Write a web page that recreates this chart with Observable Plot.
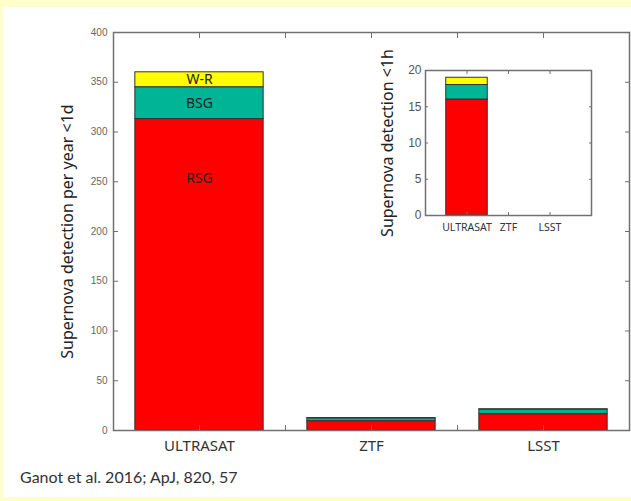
<!DOCTYPE html>
<html><head><meta charset="utf-8">
<script src="https://cdn.jsdelivr.net/npm/d3@7"></script>
<script src="https://cdn.jsdelivr.net/npm/@observablehq/plot@0.6"></script>
<style>
html,body{margin:0;padding:0;background:#fff;}
#wrap{position:relative;width:631px;height:501px;background:#ffffcc;overflow:hidden;font-family:Lato,sans-serif;}
#panel{position:absolute;left:3px;top:7px;width:628px;height:490px;background:#fff;}
#main{position:absolute;left:0;top:0;}
#inset{position:absolute;left:345px;top:55px;}
#caption{position:absolute;left:20px;top:468px;font-size:16px;line-height:18px;color:#333;font-family:Lato,sans-serif;}
</style></head><body>
<div id="wrap"><div id="panel"></div><div id="main"></div><div id="inset"></div><div id="caption">Ganot et al. 2016; ApJ, 820, 57</div></div>
<script>
const categories = ["ULTRASAT", "ZTF", "LSST"];
const types = ["RSG", "BSG", "W-R"];
const typeColors = ["#ff0000", "#00b496", "#ffff00"];
// detections per year < 1 day
const rsgDay = [313, 9.4, 16.4];
const bsgDay = [32, 2.8, 4.5];
const wrDay = [15, 0.3, 0.5];
// detections < 1 hour (inset)
const rsgHour = [16, 0, 0];
const bsgHour = [2, 0, 0];
const wrHour = [1, 0, 0];
const yTicksDay = [0, 50, 100, 150, 200, 250, 300, 350, 400];
const yTicksHour = [0, 5, 10, 15, 20];
const xTicksMain = [0.5, 1, 1.5, 2, 2.5, 3, 3.5];
const xTicksInset = [1, 2, 3];

function stackRows(series) {
  const rows = [];
  categories.forEach((c, i) => {
    let y0 = 0;
    types.forEach((t, k) => {
      const v = series[k][i];
      if (v > 0) rows.push({cat: c, x: i + 1, type: t, y1: y0, y2: y0 + v});
      y0 += v;
    });
  });
  return rows;
}
const dayRows = stackRows([rsgDay, bsgDay, wrDay]);
const hourRows = stackRows([rsgHour, bsgHour, wrHour]);

const frameColor = "#707070";
const mainW = 0.746;

const main = Plot.plot({
  width: 631, height: 460,
  marginLeft: 113, marginRight: 2, marginTop: 32, marginBottom: 30,
  style: {background: "transparent", overflow: "visible"},
  x: {domain: [0.5, 3.5]},
  y: {domain: [0, 400]},
  color: {domain: types, range: typeColors},
  marks: [
    Plot.rect(dayRows, {x1: d => d.x - mainW / 2, x2: d => d.x + mainW / 2, y1: "y1", y2: "y2", fill: "type", stroke: "#333", strokeWidth: 1}),
    Plot.frame({stroke: frameColor, strokeWidth: 1.5}),
    Plot.axisY({anchor: "left", ticks: yTicksDay, tickSize: 0, tickPadding: 6, fontSize: 10, fontFamily: "Liberation Sans", color: "#666", label: null}),
    Plot.axisY({anchor: "left", ticks: yTicksDay, tickSize: -5, tickFormat: () => "", stroke: frameColor, label: null}),
    Plot.axisY({anchor: "right", ticks: yTicksDay, tickSize: -5, tickFormat: () => "", stroke: frameColor, label: null}),
    Plot.axisX({anchor: "bottom", ticks: [1, 2, 3], tickFormat: i => categories[i - 1], tickSize: 0, tickPadding: 10, fontSize: 15, color: "#333", label: null}),
    Plot.axisX({anchor: "bottom", ticks: xTicksMain, tickSize: -5, tickFormat: () => "", stroke: frameColor, label: null}),
    Plot.axisX({anchor: "top", ticks: xTicksMain, tickSize: -5, tickFormat: () => "", stroke: frameColor, label: null}),
    Plot.text(dayRows.filter(d => d.cat === "ULTRASAT" && d.type !== "RSG"), {x: "x", y: d => (d.y1 + d.y2) / 2, text: "type", fontSize: 14, fill: "#222"}),
    Plot.text(dayRows.filter(d => d.cat === "ULTRASAT" && d.type === "RSG"), {x: "x", y: "y2", dy: 59, text: "type", fontSize: 14, fill: "#222"}),
    Plot.text(["Supernova detection per year <1d"], {frameAnchor: "left", dx: -46, rotate: -90, textAnchor: "middle", fontSize: 16, fill: "#222"})
  ]
});
document.getElementById("main").appendChild(main);

const inset = Plot.plot({
  width: 250, height: 190,
  marginLeft: 80, marginRight: 4, marginTop: 15, marginBottom: 30,
  style: {background: "transparent", overflow: "visible"},
  x: {domain: [0, 4]},
  y: {domain: [0, 20]},
  color: {domain: types, range: typeColors},
  marks: [
    Plot.rect(hourRows, {x1: d => d.x - 0.5, x2: d => d.x + 0.5, y1: "y1", y2: "y2", fill: "type", stroke: "#333", strokeWidth: 1}),
    Plot.frame({stroke: frameColor, strokeWidth: 1.5}),
    Plot.axisY({anchor: "left", ticks: yTicksHour, tickSize: 0, tickPadding: 4, fontSize: 12, fontFamily: "Liberation Sans", color: "#555", label: null}),
    Plot.axisY({anchor: "left", ticks: yTicksHour, tickSize: -3, tickFormat: () => "", stroke: frameColor, label: null}),
    Plot.axisY({anchor: "right", ticks: yTicksHour, tickSize: -3, tickFormat: () => "", stroke: frameColor, label: null}),
    Plot.axisX({anchor: "bottom", ticks: xTicksInset, tickFormat: i => categories[i - 1], tickSize: 0, tickPadding: 8, fontSize: 10.5, color: "#334", label: null}),
    Plot.axisX({anchor: "bottom", ticks: xTicksInset, tickSize: -3, tickFormat: () => "", stroke: frameColor, label: null}),
    Plot.axisX({anchor: "top", ticks: xTicksInset, tickSize: -3, tickFormat: () => "", stroke: frameColor, label: null}),
    Plot.text(["Supernova detection <1h"], {frameAnchor: "left", dx: -38, rotate: -90, textAnchor: "middle", fontSize: 16, fill: "#222"})
  ]
});
document.getElementById("inset").appendChild(inset);
</script>
</body></html>
